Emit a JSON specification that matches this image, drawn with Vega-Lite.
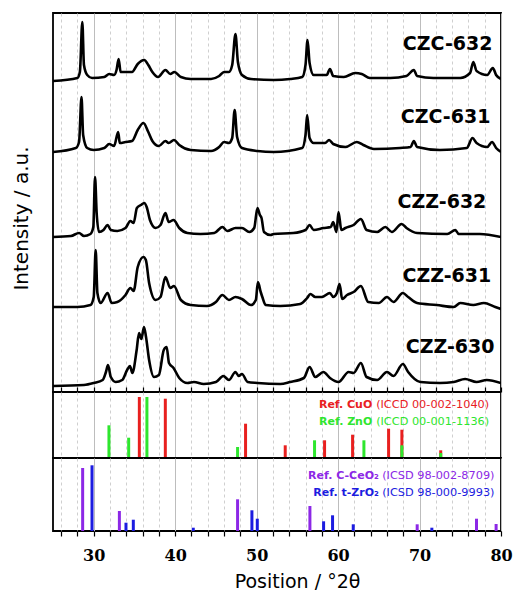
{
  "$schema": "https://vega.github.io/schema/vega-lite/v6.json",
  "background": "white",
  "padding": {"left": 10, "top": 12, "right": 0, "bottom": 2},
  "spacing": 0,
  "bounds": "flush",
  "config": {
    "view": {"stroke": "black", "strokeWidth": 1.8},
    "axis": {"domain": false}
  },
  "datasets": {
    "xrd": [
      {"s":"CZC-632","t":25,"i":311},{"s":"CZC-632","t":28.0,"i":314},{"s":"CZC-632","t":28.3,"i":320},{"s":"CZC-632","t":28.6,"i":370},{"s":"CZC-632","t":28.8,"i":327},{"s":"CZC-632","t":29.2,"i":317},{"s":"CZC-632","t":29.8,"i":314},{"s":"CZC-632","t":31.3,"i":315},{"s":"CZC-632","t":31.9,"i":318},{"s":"CZC-632","t":32.5,"i":317},{"s":"CZC-632","t":32.8,"i":322},{"s":"CZC-632","t":33.06,"i":333},{"s":"CZC-632","t":33.3,"i":320},{"s":"CZC-632","t":33.9,"i":320},{"s":"CZC-632","t":34.7,"i":320},{"s":"CZC-632","t":35.4,"i":328},{"s":"CZC-632","t":36.2,"i":332},{"s":"CZC-632","t":36.7,"i":327},{"s":"CZC-632","t":37.2,"i":320},{"s":"CZC-632","t":37.9,"i":315},{"s":"CZC-632","t":38.8,"i":322},{"s":"CZC-632","t":39.4,"i":318},{"s":"CZC-632","t":39.9,"i":320},{"s":"CZC-632","t":40.7,"i":315},{"s":"CZC-632","t":41.9,"i":313},{"s":"CZC-632","t":44.4,"i":313},{"s":"CZC-632","t":45.4,"i":316},{"s":"CZC-632","t":46.0,"i":320},{"s":"CZC-632","t":46.6,"i":320},{"s":"CZC-632","t":47.0,"i":327},{"s":"CZC-632","t":47.4,"i":358},{"s":"CZC-632","t":47.7,"i":330},{"s":"CZC-632","t":48.2,"i":317},{"s":"CZC-632","t":49.3,"i":313},{"s":"CZC-632","t":52.1,"i":312},{"s":"CZC-632","t":54.1,"i":313},{"s":"CZC-632","t":55.6,"i":315},{"s":"CZC-632","t":56.0,"i":327},{"s":"CZC-632","t":56.25,"i":352},{"s":"CZC-632","t":56.5,"i":329},{"s":"CZC-632","t":57.0,"i":317},{"s":"CZC-632","t":58.6,"i":317},{"s":"CZC-632","t":59.0,"i":323},{"s":"CZC-632","t":59.4,"i":316},{"s":"CZC-632","t":60.7,"i":315},{"s":"CZC-632","t":62.1,"i":319},{"s":"CZC-632","t":62.9,"i":318},{"s":"CZC-632","t":63.9,"i":314},{"s":"CZC-632","t":66.4,"i":314},{"s":"CZC-632","t":68.4,"i":316},{"s":"CZC-632","t":69.3,"i":322},{"s":"CZC-632","t":69.7,"i":316},{"s":"CZC-632","t":71.7,"i":314},{"s":"CZC-632","t":75.0,"i":314},{"s":"CZC-632","t":76.2,"i":319},{"s":"CZC-632","t":76.6,"i":330},{"s":"CZC-632","t":77.0,"i":321},{"s":"CZC-632","t":78.3,"i":317},{"s":"CZC-632","t":79.0,"i":324},{"s":"CZC-632","t":79.4,"i":317},{"s":"CZC-632","t":80,"i":313},
      {"s":"CZC-631","t":25,"i":240},{"s":"CZC-631","t":27.8,"i":244},{"s":"CZC-631","t":28.2,"i":250},{"s":"CZC-631","t":28.5,"i":295},{"s":"CZC-631","t":28.7,"i":257},{"s":"CZC-631","t":29.2,"i":244},{"s":"CZC-631","t":30.0,"i":242},{"s":"CZC-631","t":31.3,"i":244},{"s":"CZC-631","t":31.9,"i":248},{"s":"CZC-631","t":32.5,"i":246},{"s":"CZC-631","t":33.0,"i":260},{"s":"CZC-631","t":33.2,"i":249},{"s":"CZC-631","t":33.9,"i":250},{"s":"CZC-631","t":34.7,"i":251},{"s":"CZC-631","t":35.4,"i":262},{"s":"CZC-631","t":36.1,"i":269},{"s":"CZC-631","t":36.7,"i":260},{"s":"CZC-631","t":37.2,"i":251},{"s":"CZC-631","t":38.0,"i":246},{"s":"CZC-631","t":38.8,"i":251},{"s":"CZC-631","t":39.2,"i":249},{"s":"CZC-631","t":39.85,"i":252},{"s":"CZC-631","t":40.5,"i":247},{"s":"CZC-631","t":41.9,"i":242},{"s":"CZC-631","t":44.4,"i":241},{"s":"CZC-631","t":45.4,"i":245},{"s":"CZC-631","t":46.0,"i":250},{"s":"CZC-631","t":46.6,"i":249},{"s":"CZC-631","t":47.0,"i":254},{"s":"CZC-631","t":47.3,"i":282},{"s":"CZC-631","t":47.6,"i":255},{"s":"CZC-631","t":48.2,"i":244},{"s":"CZC-631","t":50.1,"i":241},{"s":"CZC-631","t":52.1,"i":240},{"s":"CZC-631","t":55.6,"i":244},{"s":"CZC-631","t":56.0,"i":257},{"s":"CZC-631","t":56.2,"i":277},{"s":"CZC-631","t":56.5,"i":254},{"s":"CZC-631","t":57.0,"i":249},{"s":"CZC-631","t":58.4,"i":249},{"s":"CZC-631","t":58.9,"i":252},{"s":"CZC-631","t":59.4,"i":248},{"s":"CZC-631","t":60.9,"i":245},{"s":"CZC-631","t":62.3,"i":250},{"s":"CZC-631","t":63.1,"i":247},{"s":"CZC-631","t":64.4,"i":243},{"s":"CZC-631","t":67.6,"i":244},{"s":"CZC-631","t":68.9,"i":245},{"s":"CZC-631","t":69.3,"i":251},{"s":"CZC-631","t":69.7,"i":245},{"s":"CZC-631","t":72.5,"i":242},{"s":"CZC-631","t":75.8,"i":244},{"s":"CZC-631","t":76.5,"i":254},{"s":"CZC-631","t":77.0,"i":249},{"s":"CZC-631","t":78.3,"i":245},{"s":"CZC-631","t":78.9,"i":250},{"s":"CZC-631","t":79.4,"i":244},{"s":"CZC-631","t":80,"i":240},
      {"s":"CZZ-632","t":25,"i":155},{"s":"CZZ-632","t":27.2,"i":156},{"s":"CZZ-632","t":28.2,"i":159},{"s":"CZZ-632","t":28.8,"i":156},{"s":"CZZ-632","t":29.6,"i":158},{"s":"CZZ-632","t":29.95,"i":165},{"s":"CZZ-632","t":30.16,"i":215},{"s":"CZZ-632","t":30.36,"i":179},{"s":"CZZ-632","t":30.65,"i":160},{"s":"CZZ-632","t":31.2,"i":162},{"s":"CZZ-632","t":31.7,"i":167},{"s":"CZZ-632","t":32.1,"i":162},{"s":"CZZ-632","t":32.9,"i":161},{"s":"CZZ-632","t":33.9,"i":164},{"s":"CZZ-632","t":34.5,"i":171},{"s":"CZZ-632","t":34.9,"i":169},{"s":"CZZ-632","t":35.3,"i":184},{"s":"CZZ-632","t":35.8,"i":187},{"s":"CZZ-632","t":36.2,"i":189},{"s":"CZZ-632","t":36.5,"i":185},{"s":"CZZ-632","t":36.9,"i":172},{"s":"CZZ-632","t":37.6,"i":164},{"s":"CZZ-632","t":38.2,"i":167},{"s":"CZZ-632","t":38.8,"i":179},{"s":"CZZ-632","t":39.2,"i":170},{"s":"CZZ-632","t":39.8,"i":172},{"s":"CZZ-632","t":40.5,"i":164},{"s":"CZZ-632","t":41.5,"i":159},{"s":"CZZ-632","t":43.1,"i":158},{"s":"CZZ-632","t":44.8,"i":159},{"s":"CZZ-632","t":45.8,"i":165},{"s":"CZZ-632","t":46.4,"i":161},{"s":"CZZ-632","t":47.4,"i":164},{"s":"CZZ-632","t":48.2,"i":164},{"s":"CZZ-632","t":49.1,"i":160},{"s":"CZZ-632","t":49.7,"i":164},{"s":"CZZ-632","t":50.1,"i":184},{"s":"CZZ-632","t":50.4,"i":177},{"s":"CZZ-632","t":50.6,"i":174},{"s":"CZZ-632","t":50.9,"i":160},{"s":"CZZ-632","t":51.7,"i":157},{"s":"CZZ-632","t":52.1,"i":158},{"s":"CZZ-632","t":54.5,"i":159},{"s":"CZZ-632","t":56.0,"i":162},{"s":"CZZ-632","t":56.5,"i":167},{"s":"CZZ-632","t":57.0,"i":162},{"s":"CZZ-632","t":58.2,"i":164},{"s":"CZZ-632","t":59.1,"i":165},{"s":"CZZ-632","t":59.4,"i":170},{"s":"CZZ-632","t":59.8,"i":160},{"s":"CZZ-632","t":60.05,"i":180},{"s":"CZZ-632","t":60.4,"i":162},{"s":"CZZ-632","t":60.9,"i":164},{"s":"CZZ-632","t":61.9,"i":167},{"s":"CZZ-632","t":62.8,"i":173},{"s":"CZZ-632","t":63.5,"i":162},{"s":"CZZ-632","t":64.8,"i":160},{"s":"CZZ-632","t":65.8,"i":165},{"s":"CZZ-632","t":66.6,"i":160},{"s":"CZZ-632","t":67.8,"i":168},{"s":"CZZ-632","t":68.4,"i":164},{"s":"CZZ-632","t":69.7,"i":159},{"s":"CZZ-632","t":73.4,"i":158},{"s":"CZZ-632","t":74.4,"i":162},{"s":"CZZ-632","t":74.8,"i":158},{"s":"CZZ-632","t":77.4,"i":158},{"s":"CZZ-632","t":80,"i":155},
      {"s":"CZZ-631","t":25,"i":85},{"s":"CZZ-631","t":28,"i":85},{"s":"CZZ-631","t":29.6,"i":87},{"s":"CZZ-631","t":30.0,"i":95},{"s":"CZZ-631","t":30.24,"i":142},{"s":"CZZ-631","t":30.45,"i":99},{"s":"CZZ-631","t":30.85,"i":89},{"s":"CZZ-631","t":31.7,"i":99},{"s":"CZZ-631","t":32.2,"i":89},{"s":"CZZ-631","t":32.9,"i":90},{"s":"CZZ-631","t":33.9,"i":97},{"s":"CZZ-631","t":34.5,"i":104},{"s":"CZZ-631","t":34.9,"i":101},{"s":"CZZ-631","t":35.4,"i":125},{"s":"CZZ-631","t":36.1,"i":135},{"s":"CZZ-631","t":36.4,"i":132},{"s":"CZZ-631","t":36.8,"i":109},{"s":"CZZ-631","t":37.6,"i":92},{"s":"CZZ-631","t":38.2,"i":95},{"s":"CZZ-631","t":38.8,"i":115},{"s":"CZZ-631","t":39.4,"i":104},{"s":"CZZ-631","t":39.85,"i":106},{"s":"CZZ-631","t":40.7,"i":92},{"s":"CZZ-631","t":41.9,"i":87},{"s":"CZZ-631","t":43.9,"i":86},{"s":"CZZ-631","t":45.0,"i":90},{"s":"CZZ-631","t":45.8,"i":97},{"s":"CZZ-631","t":46.6,"i":92},{"s":"CZZ-631","t":47.4,"i":95},{"s":"CZZ-631","t":48.2,"i":93},{"s":"CZZ-631","t":49.3,"i":87},{"s":"CZZ-631","t":49.9,"i":92},{"s":"CZZ-631","t":50.16,"i":110},{"s":"CZZ-631","t":50.5,"i":100},{"s":"CZZ-631","t":50.7,"i":95},{"s":"CZZ-631","t":51.1,"i":87},{"s":"CZZ-631","t":52.9,"i":86},{"s":"CZZ-631","t":55.35,"i":88},{"s":"CZZ-631","t":56.2,"i":94},{"s":"CZZ-631","t":56.6,"i":98},{"s":"CZZ-631","t":57.2,"i":95},{"s":"CZZ-631","t":58.0,"i":95},{"s":"CZZ-631","t":59.0,"i":99},{"s":"CZZ-631","t":59.4,"i":95},{"s":"CZZ-631","t":59.85,"i":99},{"s":"CZZ-631","t":60.18,"i":108},{"s":"CZZ-631","t":60.5,"i":93},{"s":"CZZ-631","t":61.1,"i":97},{"s":"CZZ-631","t":61.9,"i":100},{"s":"CZZ-631","t":62.8,"i":106},{"s":"CZZ-631","t":63.7,"i":90},{"s":"CZZ-631","t":65.0,"i":89},{"s":"CZZ-631","t":66.0,"i":95},{"s":"CZZ-631","t":66.8,"i":90},{"s":"CZZ-631","t":67.95,"i":99},{"s":"CZZ-631","t":68.6,"i":95},{"s":"CZZ-631","t":69.7,"i":89},{"s":"CZZ-631","t":72.1,"i":87},{"s":"CZZ-631","t":74.2,"i":85},{"s":"CZZ-631","t":75.0,"i":89},{"s":"CZZ-631","t":76.6,"i":87},{"s":"CZZ-631","t":77.9,"i":89},{"s":"CZZ-631","t":79.3,"i":85},{"s":"CZZ-631","t":80,"i":83},
      {"s":"CZZ-630","t":25,"i":6},{"s":"CZZ-630","t":28.8,"i":7},{"s":"CZZ-630","t":30.0,"i":9},{"s":"CZZ-630","t":31.1,"i":12},{"s":"CZZ-630","t":31.5,"i":20},{"s":"CZZ-630","t":31.75,"i":27},{"s":"CZZ-630","t":32.1,"i":15},{"s":"CZZ-630","t":32.7,"i":10},{"s":"CZZ-630","t":33.5,"i":12},{"s":"CZZ-630","t":34.1,"i":22},{"s":"CZZ-630","t":34.45,"i":26},{"s":"CZZ-630","t":34.74,"i":19},{"s":"CZZ-630","t":35.27,"i":42},{"s":"CZZ-630","t":35.56,"i":59},{"s":"CZZ-630","t":35.85,"i":53},{"s":"CZZ-630","t":36.17,"i":65},{"s":"CZZ-630","t":36.42,"i":55},{"s":"CZZ-630","t":36.8,"i":32},{"s":"CZZ-630","t":37.4,"i":15},{"s":"CZZ-630","t":38.0,"i":17},{"s":"CZZ-630","t":38.6,"i":42},{"s":"CZZ-630","t":38.95,"i":45},{"s":"CZZ-630","t":39.24,"i":29},{"s":"CZZ-630","t":39.8,"i":24},{"s":"CZZ-630","t":40.5,"i":14},{"s":"CZZ-630","t":41.5,"i":9},{"s":"CZZ-630","t":42.3,"i":10},{"s":"CZZ-630","t":43.5,"i":8},{"s":"CZZ-630","t":45.0,"i":10},{"s":"CZZ-630","t":45.9,"i":16},{"s":"CZZ-630","t":46.6,"i":12},{"s":"CZZ-630","t":47.4,"i":20},{"s":"CZZ-630","t":47.8,"i":16},{"s":"CZZ-630","t":48.2,"i":18},{"s":"CZZ-630","t":48.9,"i":10},{"s":"CZZ-630","t":50.1,"i":9},{"s":"CZZ-630","t":52.9,"i":8},{"s":"CZZ-630","t":54.1,"i":10},{"s":"CZZ-630","t":55.8,"i":14},{"s":"CZZ-630","t":56.5,"i":25},{"s":"CZZ-630","t":57.2,"i":15},{"s":"CZZ-630","t":58.2,"i":20},{"s":"CZZ-630","t":59.0,"i":14},{"s":"CZZ-630","t":60.05,"i":10},{"s":"CZZ-630","t":61.3,"i":20},{"s":"CZZ-630","t":61.9,"i":19},{"s":"CZZ-630","t":62.8,"i":29},{"s":"CZZ-630","t":63.5,"i":15},{"s":"CZZ-630","t":64.8,"i":12},{"s":"CZZ-630","t":66.0,"i":20},{"s":"CZZ-630","t":66.8,"i":16},{"s":"CZZ-630","t":67.95,"i":28},{"s":"CZZ-630","t":68.6,"i":20},{"s":"CZZ-630","t":70.1,"i":10},{"s":"CZZ-630","t":72.5,"i":9},{"s":"CZZ-630","t":74.2,"i":10},{"s":"CZZ-630","t":75.6,"i":13},{"s":"CZZ-630","t":77.0,"i":10},{"s":"CZZ-630","t":78.25,"i":12},{"s":"CZZ-630","t":80,"i":9}
    ],
    "labels": [
      {"s":"CZC-632","t":78.95,"i":342},
      {"s":"CZC-631","t":78.7,"i":269},
      {"s":"CZZ-632","t":78.2,"i":184},
      {"s":"CZZ-631","t":78.8,"i":110},
      {"s":"CZZ-630","t":79.2,"i":39}
    ],
    "ref1": [
      {"ph":"CuO","t":35.6,"h":61},{"ph":"CuO","t":38.79,"h":59.3},{"ph":"CuO","t":48.64,"h":34.3},{"ph":"CuO","t":53.51,"h":12.7},{"ph":"CuO","t":58.34,"h":17.7},{"ph":"CuO","t":61.78,"h":23.3},{"ph":"CuO","t":66.2,"h":29.3},{"ph":"CuO","t":67.83,"h":28.3},{"ph":"CuO","t":72.6,"h":7.7},
      {"ph":"ZnO","t":31.87,"h":32.7},{"ph":"ZnO","t":34.29,"h":20.3},{"ph":"ZnO","t":36.53,"h":61},{"ph":"ZnO","t":47.66,"h":11},{"ph":"ZnO","t":57.11,"h":17.7},{"ph":"ZnO","t":63.17,"h":17.7},{"ph":"ZnO","t":67.83,"h":12.7},{"ph":"ZnO","t":72.6,"h":5}
    ],
    "ref2": [
      {"ph":"CeO2","t":28.64,"h":63},{"ph":"CeO2","t":33.15,"h":20},{"ph":"CeO2","t":47.66,"h":31.7},{"ph":"CeO2","t":56.54,"h":25},{"ph":"CeO2","t":69.71,"h":6.7},{"ph":"CeO2","t":76.99,"h":12.3},{"ph":"CeO2","t":79.4,"h":7},
      {"ph":"ZrO2","t":29.79,"h":65.7},{"ph":"ZrO2","t":33.96,"h":8.3},{"ph":"ZrO2","t":34.86,"h":11.3},{"ph":"ZrO2","t":42.22,"h":3.3},{"ph":"ZrO2","t":49.42,"h":20.7},{"ph":"ZrO2","t":50.08,"h":12.3},{"ph":"ZrO2","t":58.22,"h":9.7},{"ph":"ZrO2","t":59.32,"h":15.7},{"ph":"ZrO2","t":61.86,"h":6.7},{"ph":"ZrO2","t":71.51,"h":3.3}
    ],
    "reftxtBold": [
      {"ph":"CuO","txt":"Ref. CuO","t":64.2,"i":50,"p":"m"},
      {"ph":"ZnO","txt":"Ref. ZnO","t":64.2,"i":32.7,"p":"m"},
      {"ph":"CeO2","txt":"Ref. C-CeO₂","t":65.0,"i":52.4,"p":"b"},
      {"ph":"ZrO2","txt":"Ref. t-ZrO₂","t":65.0,"i":34.7,"p":"b"}
    ],
    "reftxtReg": [
      {"ph":"CuO","txt":"(ICCD 00-002-1040)","t":78.55,"i":50,"p":"m"},
      {"ph":"ZnO","txt":"(ICCD 00-001-1136)","t":78.55,"i":32.7,"p":"m"},
      {"ph":"CeO2","txt":"(ICSD 98-002-8709)","t":79.2,"i":52.4,"p":"b"},
      {"ph":"ZrO2","txt":"(ICSD 98-000-9993)","t":79.2,"i":34.7,"p":"b"}
    ]
  },
  "vconcat": [
    {
      "width": 448,
      "height": 379,
      "layer": [
        {
          "data": {"name": "xrd"},
          "mark": {"type": "line", "color": "black", "strokeWidth": 2.6, "strokeJoin": "round", "interpolate": "monotone", "clip": true},
          "encoding": {
            "x": {"field": "t", "type": "quantitative", "scale": {"domain": [25, 80], "nice": false, "zero": false},
              "axis": {"values": [26,28,30,32,34,36,38,40,42,44,46,48,50,52,54,56,58,60,62,64,66,68,70,72,74,76,78,80], "tickCount": 100,
                "labels": false, "title": null, "ticks": true, "tickSize": -5, "tickColor": "black", "tickWidth": 1.2,
                "grid": true,
                "gridDash": {"condition": {"test": "datum.value % 10 === 0", "value": []}, "value": [3, 3]},
                "gridColor": {"condition": {"test": "datum.value % 10 === 0", "value": "#bdbdbd"}, "value": "#cfcfcf"}}},
            "y": {"field": "i", "type": "quantitative", "scale": {"domain": [0, 379], "nice": false},
              "axis": {"title": "Intensity / a.u.", "labels": false, "ticks": false, "grid": false,
                "titleFont": "DejaVu Sans", "titleFontSize": 20, "titleFontWeight": "normal", "titleColor": "black", "titlePadding": 22, "titleY": 205}},
            "detail": {"field": "s"}
          }
        },
        {
          "data": {"name": "labels"},
          "mark": {"type": "text", "align": "right", "baseline": "alphabetic", "font": "DejaVu Sans", "fontWeight": "bold", "fontSize": 19, "color": "black"},
          "encoding": {
            "x": {"field": "t", "type": "quantitative"},
            "y": {"field": "i", "type": "quantitative"},
            "text": {"field": "s"}
          }
        }
      ]
    },
    {
      "width": 448,
      "height": 66,
      "layer": [
        {
          "data": {"name": "ref1"},
          "mark": {"type": "rule", "strokeWidth": 3},
          "encoding": {
            "x": {"field": "t", "type": "quantitative", "scale": {"domain": [25, 80], "nice": false, "zero": false},
              "axis": {"values": [26,28,30,32,34,36,38,40,42,44,46,48,50,52,54,56,58,60,62,64,66,68,70,72,74,76,78,80], "tickCount": 100,
                "labels": false, "title": null, "ticks": false,
                "grid": true,
                "gridDash": {"condition": {"test": "datum.value % 10 === 0", "value": []}, "value": [3, 3]},
                "gridColor": {"condition": {"test": "datum.value % 10 === 0", "value": "#bdbdbd"}, "value": "#cfcfcf"}}},
            "y": {"field": "h", "type": "quantitative", "scale": {"domain": [0, 66], "nice": false},
              "axis": {"title": null, "labels": false, "ticks": false, "grid": false}},
            "y2": {"datum": 0},
            "color": {"field": "ph", "type": "nominal", "legend": null,
              "scale": {"domain": ["CuO", "ZnO", "CeO2", "ZrO2"], "range": ["#e8201f", "#2ee62e", "#8c28e6", "#1c1ce0"]}}
          }
        },
        {
          "data": {"name": "reftxtBold"},
          "transform": [{"filter": "datum.p === 'm'"}],
          "mark": {"type": "text", "align": "right", "baseline": "alphabetic", "font": "DejaVu Sans", "fontWeight": "bold", "fontSize": 11},
          "encoding": {
            "x": {"field": "t", "type": "quantitative"},
            "y": {"field": "i", "type": "quantitative"},
            "text": {"field": "txt"},
            "color": {"field": "ph", "type": "nominal", "legend": null,
              "scale": {"domain": ["CuO", "ZnO", "CeO2", "ZrO2"], "range": ["#e8201f", "#2ee62e", "#8c28e6", "#1c1ce0"]}}
          }
        },
        {
          "data": {"name": "reftxtReg"},
          "transform": [{"filter": "datum.p === 'm'"}],
          "mark": {"type": "text", "align": "right", "baseline": "alphabetic", "font": "DejaVu Sans", "fontWeight": "normal", "fontSize": 11.3},
          "encoding": {
            "x": {"field": "t", "type": "quantitative"},
            "y": {"field": "i", "type": "quantitative"},
            "text": {"field": "txt"},
            "color": {"field": "ph", "type": "nominal", "legend": null,
              "scale": {"domain": ["CuO", "ZnO", "CeO2", "ZrO2"], "range": ["#e8201f", "#2ee62e", "#8c28e6", "#1c1ce0"]}}
          }
        }
      ]
    },
    {
      "width": 448,
      "height": 73,
      "layer": [
        {
          "data": {"name": "ref2"},
          "mark": {"type": "rule", "strokeWidth": 3},
          "encoding": {
            "x": {"field": "t", "type": "quantitative", "scale": {"domain": [25, 80], "nice": false, "zero": false},
              "axis": {"values": [26,28,30,32,34,36,38,40,42,44,46,48,50,52,54,56,58,60,62,64,66,68,70,72,74,76,78,80], "tickCount": 100,
                "format": "d",
                "labelExpr": "datum.value % 10 === 0 ? datum.label : ''",
                "labelFont": "DejaVu Serif", "labelFontWeight": "bold", "labelFontSize": 16, "labelColor": "black", "labelPadding": 11,
                "labelFlush": false, "labelOverlap": false,
                "ticks": true, "tickSize": 5, "tickColor": "black", "tickWidth": 1.2,
                "title": "Position / °2θ", "titleFont": "DejaVu Sans", "titleFontSize": 19, "titleFontWeight": "normal", "titleColor": "black",
                "titlePadding": 9, "titleX": 244,
                "grid": true,
                "gridDash": {"condition": {"test": "datum.value % 10 === 0", "value": []}, "value": [3, 3]},
                "gridColor": {"condition": {"test": "datum.value % 10 === 0", "value": "#bdbdbd"}, "value": "#cfcfcf"}}},
            "y": {"field": "h", "type": "quantitative", "scale": {"domain": [0, 73], "nice": false},
              "axis": {"title": null, "labels": false, "ticks": false, "grid": false}},
            "y2": {"datum": 0},
            "color": {"field": "ph", "type": "nominal", "legend": null,
              "scale": {"domain": ["CuO", "ZnO", "CeO2", "ZrO2"], "range": ["#e8201f", "#2ee62e", "#8c28e6", "#1c1ce0"]}}
          }
        },
        {
          "data": {"name": "reftxtBold"},
          "transform": [{"filter": "datum.p === 'b'"}],
          "mark": {"type": "text", "align": "right", "baseline": "alphabetic", "font": "DejaVu Sans", "fontWeight": "bold", "fontSize": 11},
          "encoding": {
            "x": {"field": "t", "type": "quantitative"},
            "y": {"field": "i", "type": "quantitative"},
            "text": {"field": "txt"},
            "color": {"field": "ph", "type": "nominal", "legend": null,
              "scale": {"domain": ["CuO", "ZnO", "CeO2", "ZrO2"], "range": ["#e8201f", "#2ee62e", "#8c28e6", "#1c1ce0"]}}
          }
        },
        {
          "data": {"name": "reftxtReg"},
          "transform": [{"filter": "datum.p === 'b'"}],
          "mark": {"type": "text", "align": "right", "baseline": "alphabetic", "font": "DejaVu Sans", "fontWeight": "normal", "fontSize": 11.3},
          "encoding": {
            "x": {"field": "t", "type": "quantitative"},
            "y": {"field": "i", "type": "quantitative"},
            "text": {"field": "txt"},
            "color": {"field": "ph", "type": "nominal", "legend": null,
              "scale": {"domain": ["CuO", "ZnO", "CeO2", "ZrO2"], "range": ["#e8201f", "#2ee62e", "#8c28e6", "#1c1ce0"]}}
          }
        }
      ]
    }
  ]
}
